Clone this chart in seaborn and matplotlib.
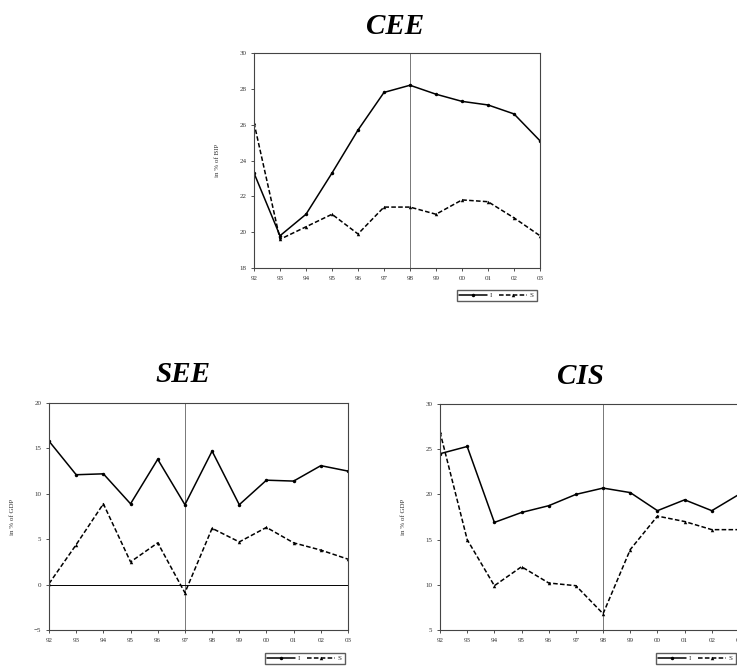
import numpy as np
import pandas as pd
import seaborn as sns
from matplotlib import pyplot as plt

years = [1992, 1993, 1994, 1995, 1996, 1997, 1998, 1999, 2000, 2001, 2002, 2003]
year_labels = ["92", "93", "94", "95", "96", "97", "98", "99", "00", "01", "02", "03"]

cee_I = [23.3, 19.8, 21.0, 23.3, 25.7, 27.8, 28.2, 27.7, 27.3, 27.1, 26.6, 25.1]
cee_S = [26.1, 19.6, 20.3, 21.0, 19.9, 21.4, 21.4, 21.0, 21.8, 21.7, 20.8, 19.8]

see_I = [15.8, 12.1, 12.2, 8.9, 13.8, 8.8, 14.7, 8.8, 11.5, 11.4, 13.1, 12.5]
see_S = [0.1, 4.4, 8.9, 2.5, 4.6, -0.9, 6.2, 4.7, 6.3, 4.6, 3.8, 2.8]

cis_I = [24.5, 25.3, 16.9, 18.0, 18.75, 20.0, 20.7, 20.2, 18.2, 19.4, 18.2, 20.0]
cis_S = [26.9, 15.0, 9.9, 12.0, 10.2, 9.9, 6.8, 13.9, 17.6, 17.0, 16.1, 16.1]

sns.set_style("white")
plt.rcParams['font.family'] = ['Liberation Serif', 'DejaVu Serif']

fig = plt.figure(figsize=(7.37, 6.71), dpi=100)
W, H = 737, 671


def px_axes(left, right, top, bottom):
    return fig.add_axes([left / W, 1 - bottom / H, (right - left) / W, (bottom - top) / H])


def panel(ax, I, S, ylim, yticks, vline, ylabel, zero=False):
    df = pd.DataFrame({
        "year": years * 2,
        "value": I + S,
        "series": ["I"] * len(years) + ["S"] * len(years),
    })
    sns.lineplot(data=df, x="year", y="value", style="series",
                 dashes={"I": "", "S": (3, 1.5)},
                 markers={"I": "o", "S": "^"},
                 color="black", linewidth=1.1, markersize=2.5,
                 markeredgewidth=0, ax=ax)
    ax.axvline(vline, color="#777777", linewidth=0.7, zorder=0)
    if zero:
        ax.axhline(0, color="black", linewidth=0.7, zorder=0)
    ax.set_xlim(years[0], years[-1])
    ax.set_ylim(*ylim)
    ax.set_yticks(yticks)
    ax.set_xticks(years)
    ax.set_xticklabels(year_labels)
    ax.set_xlabel("")
    ax.set_ylabel(ylabel, fontsize=5, labelpad=14, color="#333333")
    ax.tick_params(axis="both", labelsize=5, direction="out", length=2,
                   width=0.6, colors="#333333", left=True, bottom=True)
    for sp in ax.spines.values():
        sp.set_color("#444444")
        sp.set_linewidth(0.8)
    handles, labels = ax.get_legend_handles_labels()
    ax.legend(handles, labels, loc="upper right", bbox_to_anchor=(1.0, -0.085),
              ncol=2, fontsize=5, frameon=True, fancybox=False,
              edgecolor="#333333", handlelength=4, borderpad=0.4,
              columnspacing=1.0, handletextpad=0.4)


ax1 = px_axes(254, 540, 53, 268)
panel(ax1, cee_I, cee_S, (18, 30), [18, 20, 22, 24, 26, 28, 30], 1998, "in % of BIP")

ax2 = px_axes(49, 348, 403, 630)
panel(ax2, see_I, see_S, (-5, 20), [-5, 0, 5, 10, 15, 20], 1997, "in % of GDP", zero=True)

ax3 = px_axes(440, 739, 404, 630)
panel(ax3, cis_I, cis_S, (5, 30), [5, 10, 15, 20, 25, 30], 1998, "in % of GDP")

title_kw = dict(fontsize=21, fontweight="bold", fontstyle="italic",
                ha="center", va="center", color="black")
fig.text(395 / W, 1 - 27 / H, "CEE", **title_kw)
fig.text(183 / W, 1 - 375 / H, "SEE", **title_kw)
fig.text(580 / W, 1 - 376 / H, "CIS", **title_kw)

fig.savefig("out.png", dpi=100)
